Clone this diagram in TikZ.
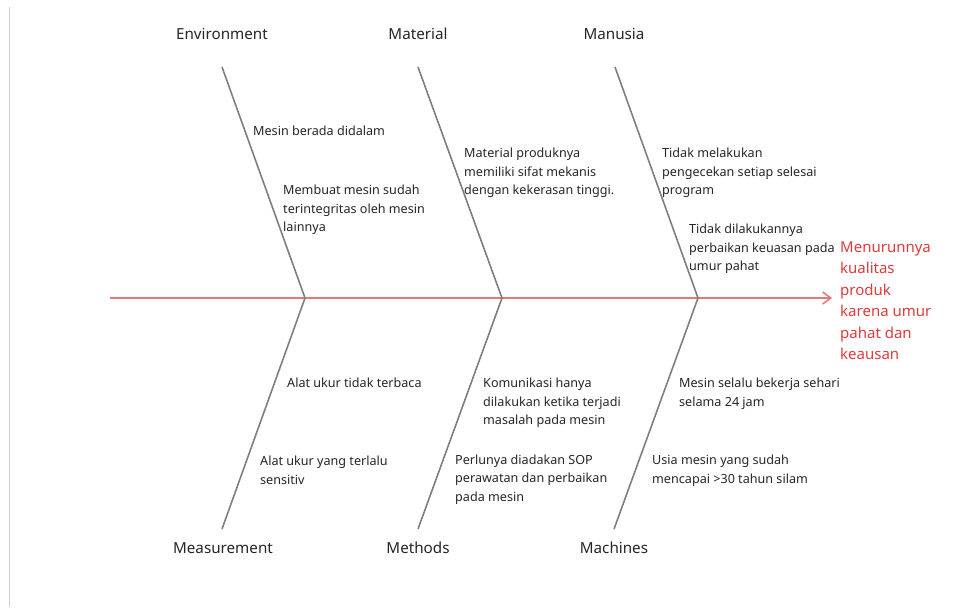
\documentclass[tikz,border=0pt]{standalone}
\usepackage{fontspec}
\setmainfont{Noto Sans}
\usetikzlibrary{arrows.meta}
\definecolor{bonegray}{HTML}{7F7F7F}
\definecolor{spinered}{HTML}{E87878}
\definecolor{effectred}{HTML}{E03C3C}
\begin{document}
\begin{tikzpicture}[x=1pt,y=-1pt,
  bone/.style={draw=bonegray,line width=1.6pt},
  cat/.style={font=\fontsize{15.2}{18}\selectfont,text=black!85,inner sep=0pt},
  cause/.style={font=\fontsize{12.6}{18.5}\selectfont,text=black!85,align=left,inner sep=0pt,anchor=north west},
  effect/.style={font=\fontsize{15}{21.4}\selectfont,text=effectred,align=left,inner sep=0pt,anchor=north west}]
\useasboundingbox (0,0) rectangle (976,607);
\fill[white] (0,0) rectangle (976,607);
\draw[black!20,line width=0.8pt] (9,7) -- (9,607);
% coordinates
\coordinate (s0) at (110,298);
\coordinate (s1) at (305,298);
\coordinate (s2) at (502,298);
\coordinate (s3) at (698,298);
\coordinate (tip) at (832,298);
\coordinate (t1) at (222,67);
\coordinate (t2) at (418,67);
\coordinate (t3) at (615,67);
\coordinate (b1) at (222,529);
\coordinate (b2) at (418,529);
\coordinate (b3) at (614,529);
% spine
\draw[draw=spinered,line width=2pt,-{Straight Barb[length=8pt,width=12pt,line width=1.6pt]}] (s0) -- (tip);
% bones
\draw[bone] (t1) -- (s1) -- (b1);
\draw[bone] (t2) -- (s2) -- (b2);
\draw[bone] (t3) -- (s3) -- (b3);
% categories
\node[cat] (env) at (222,34) {Environment};
\node[cat] (mat) at (418,34) {Material};
\node[cat] (man) at (614,34) {Manusia};
\node[cat] (mea) at (223,548) {Measurement};
\node[cat] (met) at (418,548) {Methods};
\node[cat] (mac) at (614,548) {Machines};
% causes top
\node[cause] (c1) at (253,126) {Mesin berada didalam};
\node[cause] (c2) at (283,185) {Membuat mesin sudah\\terintegritas oleh mesin\\lainnya};
\node[cause] (c3) at (464,148) {Material produknya\\memiliki sifat mekanis\\dengan kekerasan tinggi.};
\node[cause] (c4) at (662,148) {Tidak melakukan\\pengecekan setiap selesai\\program};
\node[cause] (c5) at (689,224) {Tidak dilakukannya\\perbaikan keuasan pada\\umur pahat};
% causes bottom
\node[cause] (c6) at (287,378) {Alat ukur tidak terbaca};
\node[cause] (c7) at (260,456) {Alat ukur yang terlalu\\sensitiv};
\node[cause] (c8) at (483,378) {Komunikasi hanya\\dilakukan ketika terjadi\\masalah pada mesin};
\node[cause] (c9) at (455,454.5) {Perlunya diadakan SOP\\perawatan dan perbaikan\\pada mesin};
\node[cause] (c10) at (679,378) {Mesin selalu bekerja sehari\\selama 24 jam};
\node[cause] (c11) at (652,455) {Usia mesin yang sudah\\mencapai >30 tahun silam};
% effect
\node[effect] (eff) at (840,241.5) {Menurunnya\\kualitas\\produk\\karena umur\\pahat dan\\keausan};
\end{tikzpicture}
\end{document}
